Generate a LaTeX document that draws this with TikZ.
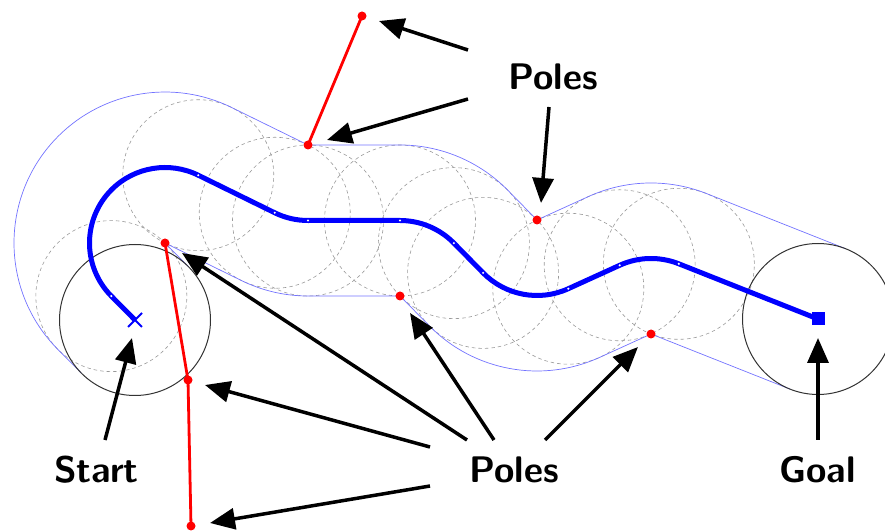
\documentclass[tikz,border=0pt]{standalone}
\usepackage{fontspec}
\usetikzlibrary{arrows.meta,shapes.misc}
\begin{document}
\begin{tikzpicture}[x=1pt,y=1pt,
  tube/.style={draw=blue!55, line width=0.7pt},
  bubble/.style={draw=black!40, line width=0.6pt, dash pattern=on 3.5pt off 3pt},
  endcirc/.style={draw=black!80, line width=1pt},
  pathline/.style={draw=blue, line width=5pt},
  poleline/.style={draw=red, line width=2.8pt},
  poledot/.style={fill=red, circle, inner sep=0pt, minimum size=9pt},
  knot/.style={fill=white, circle, inner sep=0pt, minimum size=2.4pt},
  callout/.style={draw=black, line width=3.5pt, -{Triangle[length=25pt,width=21pt]}},
  lbl/.style={font=\fontsize{37}{40}\selectfont\sffamily\bfseries, inner sep=0pt, anchor=base}
]
\useasboundingbox (0,0) rectangle (885,532);
% key points
\coordinate (S) at (135,212);
\coordinate (G) at (818,213);
\coordinate (P1) at (165,289);
\coordinate (P2) at (308,387);
\coordinate (P3) at (400,236);
\coordinate (P4) at (537,312);
\coordinate (P5) at (651,198);
\coordinate (Q1) at (188,152);
\coordinate (Q2) at (191,6);
\coordinate (Q3) at (362,516);
\coordinate (T0) at (111.34,235.89);
\coordinate (T1) at (198.26,356.78);
\coordinate (T2) at (274.74,319.22);
\coordinate (T3) at (308,311.5);
\coordinate (T4) at (400,311.5);
\coordinate (T5) at (453.88,288.88);
\coordinate (T6) at (483.12,259.12);
\coordinate (T7) at (568.31,243.29);
\coordinate (T8) at (619.69,266.71);
\coordinate (T9) at (678.84,268.18);
% bubbles
\foreach \p in {T0,T1,T2,T3,T4,T5,T6,T7,T8,T9}
  \draw[bubble] (\p) circle[radius=75.5pt];
% tube envelope
\draw[tube] (81.35,158.87) -- (57.69,182.76)
  arc[start angle=224.71, end angle=63.86, radius=151pt] -- (P2) -- (400,387)
  arc[start angle=90, end angle=44.46, radius=151pt] -- (P4) -- (588.38,335.42)
  arc[start angle=114.5, end angle=68.37, radius=151pt] -- (845.84,283.18);
\draw[tube] (188.66,265.11) -- (P1) -- (241.48,251.44)
  arc[start angle=243.86, end angle=270, radius=151pt] -- (P3) -- (429.24,206.24)
  arc[start angle=224.46, end angle=294.5, radius=151pt] -- (P5) -- (790.16,142.82);
% start and goal circles
\draw[endcirc] (S) circle[radius=75.5pt];
\draw[endcirc] (G) circle[radius=75.5pt];
% pole lines
\draw[poleline] (P2) -- (Q3);
\draw[poleline] (P1) -- (Q1) -- (Q2);
% path
\draw[pathline, line join=round] (S) -- (T0)
  arc[start angle=224.71, end angle=63.86, radius=75.5pt] -- (T2)
  arc[start angle=243.86, end angle=270, radius=75.5pt] -- (T4)
  arc[start angle=90, end angle=44.46, radius=75.5pt] -- (T6)
  arc[start angle=224.46, end angle=294.5, radius=75.5pt] -- (T8)
  arc[start angle=114.5, end angle=68.37, radius=75.5pt] -- (G);
\foreach \p in {T0,T1,T2,T3,T4,T5,T6,T7,T8,T9}
  \node[knot] at (\p) {};
\node[cross out, draw=blue, line width=2pt, minimum size=12pt, inner sep=0pt] (startmark) at (S) {};
\node[fill=blue, minimum size=13pt, inner sep=0pt] (goalmark) at (G) {};
% pole dots
\foreach \p in {P1,P2,P3,P4,P5,Q1,Q2,Q3}
  \node[poledot] (dot\p) at (\p) {};
% labels
\node[lbl] (polesT) at (553,442) {Poles};
\node[lbl] (startlbl) at (96.5,49) {Start};
\node[lbl] (polesB) at (514,49) {Poles};
\node[lbl] (goallbl) at (817.5,49) {Goal};
% arrow ends
\coordinate (a1s) at (468,482); \coordinate (a1e) at (379,511);
\coordinate (a2s) at (468,433); \coordinate (a2e) at (327,392);
\coordinate (a3s) at (549,425); \coordinate (a3e) at (541,329);
\coordinate (b1s) at (467,92);  \coordinate (b1e) at (182,279);
\coordinate (b2s) at (430,85);  \coordinate (b2e) at (205,147);
\coordinate (b3s) at (430,46);  \coordinate (b3e) at (210,9);
\coordinate (b4s) at (494,92);  \coordinate (b4e) at (410,219);
\coordinate (b5s) at (545,92);  \coordinate (b5e) at (638,185);
\coordinate (ss) at (105,92);   \coordinate (se) at (132,194);
\coordinate (gs) at (818,92);   \coordinate (ge) at (818,194);
\foreach \a in {a1,a2,a3,b1,b2,b3,b4,b5}
  \draw[callout] (\a s) -- (\a e);
\draw[callout] (ss) -- (se);
\draw[callout] (gs) -- (ge);
\end{tikzpicture}
\end{document}
